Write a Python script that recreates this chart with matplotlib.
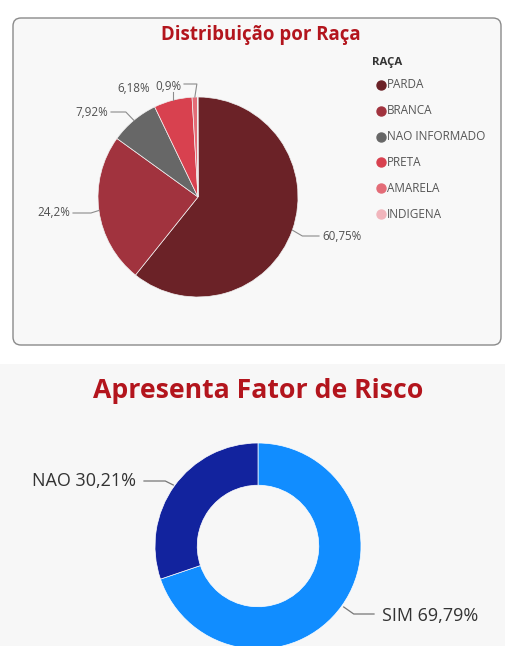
import numpy as np
import matplotlib
matplotlib.use('Agg')
import matplotlib.pyplot as plt
from matplotlib.patches import FancyBboxPatch, Rectangle

plt.rcParams['font.family'] = ['Open Sans', 'Noto Sans', 'DejaVu Sans']

# dados - raça
racas = ['PARDA', 'BRANCA', 'NAO INFORMADO', 'PRETA', 'AMARELA', 'INDIGENA']
racas_pct = [60.75, 24.2, 7.92, 6.18, 0.9, 0.05]
racas_cores = ['#6B2227', '#A1333E', '#676767', '#D8414F', '#E36C77', '#F1B5BC']

# dados - fator de risco
risco = ['SIM', 'NAO']
risco_pct = [69.79, 30.21]
risco_cores = ['#118DFF', '#12239E']

W, H = 505, 646
fig = plt.figure(figsize=(W / 100, H / 100), dpi=100)
fig.patch.set_facecolor('white')
ax = fig.add_axes([0, 0, 1, 1])


def Y(y):
    # coordenada da imagem (topo = 0) -> coordenada do eixo
    return H - y


def fmt(v):
    s = '{:.2f}'.format(v).rstrip('0').rstrip('.')
    return s.replace('.', ',') + '%'


# fundos
ax.add_patch(Rectangle((0, 0), W, Y(364), facecolor='#F7F7F7', edgecolor='none', zorder=0))
ax.add_patch(FancyBboxPatch((13, Y(345)), 488, 327, boxstyle='round,pad=0,rounding_size=8',
                            facecolor='#F8F8F8', edgecolor='#8A8A8A', lw=1.0, zorder=0))

# ---- pizza raça ----
cx, cy, r = 198, Y(197), 100
wedges, _ = ax.pie(racas_pct, colors=racas_cores, startangle=90, counterclock=False,
                   center=(cx, cy), radius=r,
                   wedgeprops=dict(edgecolor='#F2F2F2', linewidth=0.5))

# posição dos rótulos (x, y na imagem, alinhamento), None = sem rótulo
label_pos = [(322, 236, 'left'), (70, 213, 'right'), (108, 112, 'right'),
             (150, 89, 'right'), (181, 86, 'right'), None]
for i, (w, v, lp) in enumerate(zip(wedges, racas_pct, label_pos)):
    if lp is None:
        continue
    ang = np.deg2rad((w.theta1 + w.theta2) / 2)
    ex, ey = cx + r * np.cos(ang), cy + r * np.sin(ang)
    tx, ty, ha = lp
    if ha == 'left':
        xs = [ex, ex + 10, tx - 3]
        ys = [ey, Y(ty), Y(ty)]
    elif i == 3:
        xs = [ex, ex]
        ys = [ey, Y(92)]
    elif i == 4:
        xs = [ex, ex + 2, tx + 3]
        ys = [ey, Y(ty - 2), Y(ty - 2)]
    else:
        xs = [ex, ex - 8, tx + 3]
        ys = [ey, Y(ty), Y(ty)]
    ax.plot(xs, ys, color='#8C8C8C', lw=0.8, zorder=3)
    ax.text(tx, Y(ty), fmt(v), ha=ha, va='center', fontsize=8.4, color='#505050', zorder=4)

ax.text(261, Y(35), 'Distribuição por Raça', ha='center', va='center',
        fontsize=13.4, fontweight='bold', color='#B3151D')

# legenda
ax.text(372, Y(63), 'RAÇA', ha='left', va='center', fontsize=8.2, fontweight='bold', color='#333333')
for i, (nome, cor) in enumerate(zip(racas, racas_cores)):
    yy = Y(85 + i * 25.8)
    ax.scatter([381], [yy], s=42, color=cor, zorder=4)
    ax.text(387, yy, nome, ha='left', va='center', fontsize=8.5, color='#555555')

# ---- rosca fator de risco ----
dx, dy, dr = 258, Y(546), 103
wedges2, _ = ax.pie(risco_pct, colors=risco_cores, startangle=90, counterclock=False,
                    center=(dx, dy), radius=dr,
                    wedgeprops=dict(width=dr * 0.41, edgecolor='white', linewidth=0.5))

label_pos2 = [(382, 616, 'left'), (136, 481, 'right')]
for w, nome, v, lp in zip(wedges2, risco, risco_pct, label_pos2):
    tx, ty, ha = lp
    ang = np.deg2rad((w.theta1 + w.theta2) / 2)
    ex, ey = dx + dr * np.cos(ang), dy + dr * np.sin(ang)
    if ha == 'left':
        xs = [ex + 2, ex + 12, tx - 8]
        ys = [ey - 1, Y(ty - 2), Y(ty - 2)]
    else:
        xs = [ex - 1, ex - 9, tx + 8]
        ys = [ey + 1, Y(ty), Y(ty)]
    ax.plot(xs, ys, color='#777777', lw=0.9, zorder=3)
    ax.text(tx, Y(ty), nome + ' ' + fmt(v), ha=ha, va='center', fontsize=13,
            color='#333333', zorder=4)

ax.text(258, Y(391), 'Apresenta Fator de Risco', ha='center', va='center',
        fontsize=19.2, fontweight='bold', color='#B3151D')

ax.set_xlim(0, W)
ax.set_ylim(0, H)
ax.set_aspect('auto')
ax.axis('off')

fig.savefig('out.png', dpi=100, facecolor='white')
